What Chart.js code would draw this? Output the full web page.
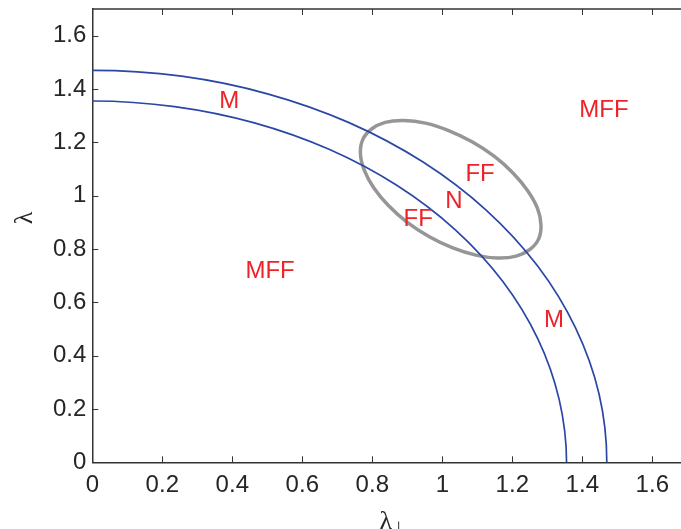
<!DOCTYPE html>
<html>
<head>
<meta charset="utf-8">
<script src="https://cdn.jsdelivr.net/npm/chart.js@4.4.0/dist/chart.umd.min.js"></script>
<style>
  html, body { margin: 0; padding: 0; background: #fff; }
  #wrap { width: 681px; height: 529px; }
</style>
</head>
<body>
<div id="wrap"><canvas id="chart"></canvas></div>
<script>
// tick labels
const xTicks = [0, 0.2, 0.4, 0.6, 0.8, 1, 1.2, 1.4, 1.6];
const yTicks = [0, 0.2, 0.4, 0.6, 0.8, 1, 1.2, 1.4, 1.6];

// outer boundary (r ~ 1.47), read along the arc
const outerX = [1.448, 1.47, 1.448, 1.381, 1.273, 1.126, 0.945, 0.735, 0.503, 0.255, 0, -0.255];
const outerY = [-0.255, 0, 0.255, 0.503, 0.735, 0.945, 1.126, 1.273, 1.381, 1.448, 1.47, 1.448];

// inner boundary (r ~ 1.355)
const innerX = [1.334, 1.355, 1.334, 1.273, 1.173, 1.038, 0.871, 0.678, 0.463, 0.235, 0, -0.235];
const innerY = [-0.235, 0, 0.235, 0.463, 0.678, 0.871, 1.038, 1.173, 1.273, 1.334, 1.355, 1.334];

// grey ellipse
const ellX = [1.250, 1.275, 1.282, 1.272, 1.244, 1.202, 1.148, 1.085, 1.018, 0.952, 0.890, 0.837,
              0.798, 0.773, 0.766, 0.777, 0.804, 0.846, 0.900, 0.963, 1.030, 1.096, 1.158, 1.211];
const ellY = [0.798, 0.837, 0.890, 0.952, 1.018, 1.085, 1.148, 1.202, 1.244, 1.272, 1.282, 1.275,
              1.250, 1.211, 1.158, 1.096, 1.030, 0.963, 0.900, 0.846, 0.804, 0.777, 0.766, 0.773];

// region labels
const labelText = ["M", "MFF", "FF", "N", "FF", "MFF", "M"];
const labelX = [0.391, 1.462, 1.108, 1.033, 0.931, 0.508, 1.319];
const labelY = [1.355, 1.321, 1.081, 0.980, 0.912, 0.717, 0.531];

const BLUE = "#2b47a6";
const GREY = "#969696";
const RED = "#ee2229";
const AXIS = "#262626";
const FONT = "'Liberation Sans', Arial, Helvetica, sans-serif";

function pts(xs, ys) {
    return xs.map((x, i) => ({ x: x, y: ys[i] }));
}

// close the ellipse: extra points on both ends, hidden segments there
const ellPts = pts(ellX, ellY);
const ellLoop = [ellPts[ellPts.length - 1]].concat(ellPts, [ellPts[0], ellPts[1]]);
const nLoop = ellLoop.length;

const decorPlugin = {
    id: "decor",
    afterDatasetsDraw(chart) {
        const ctx = chart.ctx;
        const a = chart.chartArea;
        const xs = chart.scales.x;
        const ys = chart.scales.y;
        ctx.save();

        // top axis line
        ctx.strokeStyle = "#333";
        ctx.lineWidth = 1.5;
        ctx.beginPath();
        ctx.moveTo(a.left, a.top);
        ctx.lineTo(a.right, a.top);
        ctx.stroke();

        // inward ticks
        ctx.lineWidth = 1;
        ctx.beginPath();
        xTicks.forEach(v => {
            const px = Math.round(xs.getPixelForValue(v)) + 0.5;
            ctx.moveTo(px, a.bottom);
            ctx.lineTo(px, a.bottom - 6);
            ctx.moveTo(px, a.top);
            ctx.lineTo(px, a.top + 6);
        });
        yTicks.forEach(v => {
            const py = Math.round(ys.getPixelForValue(v)) + 0.5;
            ctx.moveTo(a.left, py);
            ctx.lineTo(a.left + 6, py);
        });
        ctx.stroke();

        // region labels
        ctx.fillStyle = RED;
        ctx.font = "24px " + FONT;
        ctx.textAlign = "center";
        ctx.textBaseline = "middle";
        labelText.forEach((t, i) => {
            ctx.fillText(t, xs.getPixelForValue(labelX[i]), ys.getPixelForValue(labelY[i]));
        });

        // axis titles
        ctx.fillStyle = AXIS;
        ctx.textBaseline = "alphabetic";
        ctx.font = "26px 'Liberation Serif', 'DejaVu Serif', serif";
        ctx.textAlign = "right";
        ctx.fillText("\u03bb", 392, 529);
        ctx.font = "15px 'DejaVu Sans', sans-serif";
        ctx.textAlign = "left";
        ctx.fillText("\u22a5", 392, 532);

        ctx.translate(25, 218);
        ctx.rotate(-Math.PI / 2);
        ctx.textAlign = "center";
        ctx.textBaseline = "middle";
        ctx.font = "26px 'Liberation Serif', 'DejaVu Serif', serif";
        ctx.fillText("\u03bb", 0, 0);
        ctx.restore();
    }
};

new Chart(document.getElementById("chart"), {
    type: "scatter",
    data: {
        datasets: [
            {
                data: pts(outerX, outerY),
                showLine: true,
                borderColor: BLUE,
                borderWidth: 1.7,
                pointRadius: 0,
                tension: 0.33
            },
            {
                data: pts(innerX, innerY),
                showLine: true,
                borderColor: BLUE,
                borderWidth: 1.7,
                pointRadius: 0,
                tension: 0.33
            },
            {
                data: ellLoop,
                showLine: true,
                borderColor: GREY,
                borderWidth: 3.5,
                pointRadius: 0,
                tension: 0.33,
                segment: {
                    borderColor: c => (c.p0DataIndex === 0 || c.p1DataIndex === nLoop - 1) ? "rgba(0,0,0,0)" : GREY
                }
            }
        ]
    },
    options: {
        responsive: true,
        maintainAspectRatio: false,
        animation: false,
        layout: { padding: { top: 9, right: 0, left: 0, bottom: 0 } },
        plugins: {
            legend: { display: false },
            tooltip: { enabled: false }
        },
        scales: {
            x: {
                type: "linear",
                min: 0,
                max: 1.682,
                afterBuildTicks: s => { s.ticks = xTicks.map(v => ({ value: v })); },
                afterFit: s => { s.height = 66.7; s.paddingLeft = 0; s.paddingRight = 0; },
                grid: { drawOnChartArea: false, drawTicks: false },
                border: { color: "#333", width: 1.5 },
                ticks: {
                    color: AXIS,
                    font: { size: 24, family: FONT },
                    padding: 9,
                    maxRotation: 0,
                    callback: v => String(v)
                }
            },
            y: {
                type: "linear",
                min: 0,
                max: 1.7,
                afterBuildTicks: s => { s.ticks = yTicks.map(v => ({ value: v })); },
                afterFit: s => { s.width = 92.3; s.paddingTop = 0; s.paddingBottom = 0; },
                grid: { drawOnChartArea: false, drawTicks: false },
                border: { color: "#333", width: 1.5 },
                ticks: {
                    color: AXIS,
                    font: { size: 24, family: FONT },
                    padding: 6,
                    callback: v => String(v)
                }
            }
        }
    },
    plugins: [decorPlugin]
});
</script>
</body>
</html>
